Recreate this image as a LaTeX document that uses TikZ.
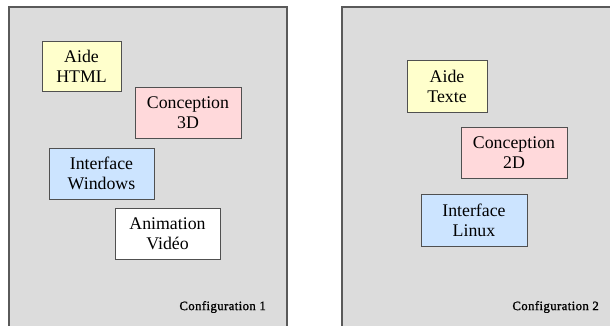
\documentclass[tikz,border=0pt]{standalone}
\usepackage{fontspec}
\setmainfont{Liberation Serif}
\newfontfamily\cfgfont[LetterSpace=3, FakeBold=1.2]{Liberation Serif}
\usetikzlibrary{positioning}
\definecolor{panelGray}{RGB}{220,220,220}
\definecolor{panelEdge}{RGB}{90,90,90}
\definecolor{boxEdge}{RGB}{80,80,80}
\definecolor{aideYellow}{RGB}{255,255,204}
\definecolor{concPink}{RGB}{255,217,219}
\definecolor{interBlue}{RGB}{204,228,255}

\begin{document}
\begin{tikzpicture}[
    x=1pt, y=-1pt,
    panel/.style={draw=panelEdge, line width=1.2pt},
    module/.style={rectangle, draw=boxEdge, line width=0.8pt, minimum width=106pt, minimum height=51pt, inner sep=0pt, align=center, font=\fontsize{17.8}{20}\selectfont},
    cfg/.style={anchor=east, inner sep=0pt, font=\cfgfont\fontsize{12.8}{14}\selectfont}
]
\useasboundingbox (0,0) rectangle (610,326);

% the two configurations
\fill[panelGray] (9,7) rectangle (287,326);
\fill[panelGray] (342,7) rectangle (610,326);
\draw[panel] (9,326) -- (9,7) -- (287,7) -- (287,326);
\draw[panel] (342,326) -- (342,7) -- (610,7);

% configuration 1
\node[module, fill=aideYellow, minimum width=79pt, minimum height=50pt] (aideHtml) at (81.5,66) {Aide\\HTML};
\node[module, fill=concPink] (concep3d) at (188,112.5) {Conception\\3D};
\node[module, fill=interBlue, minimum width=105pt] (interWin) at (101.5,173.5) {Interface\\Windows};
\node[module, fill=white, minimum width=105pt] (animVideo) at (167.5,233.5) {Animation\\Vidéo};
\node[cfg] (config1) at (266,307) {Configuration 1};

% configuration 2
\node[module, fill=aideYellow, minimum width=80pt, minimum height=52pt] (aideTexte) at (447,86) {Aide\\Texte};
\node[module, fill=concPink] (concep2d) at (514,152.5) {Conception\\2D};
\node[module, fill=interBlue, minimum height=52pt] (interLinux) at (474,220) {Interface\\Linux};
\node[cfg] (config2) at (599,307) {Configuration 2};

\end{tikzpicture}
\end{document}
